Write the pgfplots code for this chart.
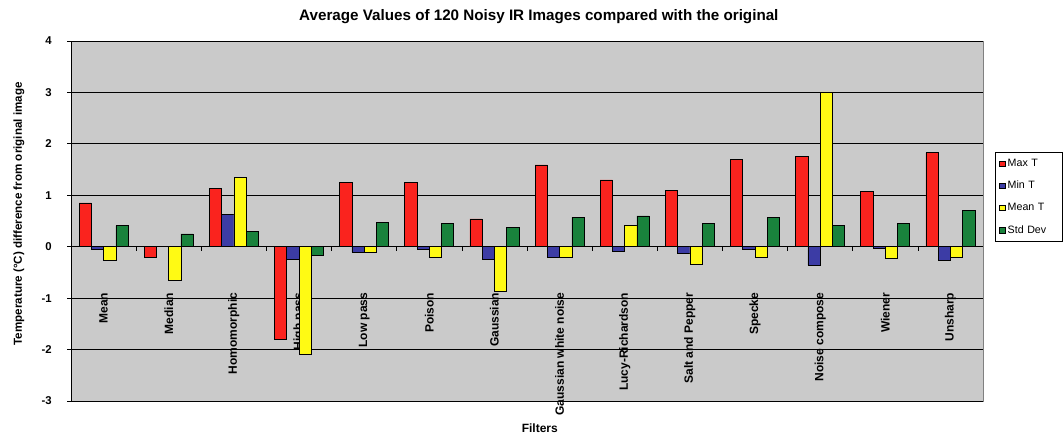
\documentclass[border=0pt]{standalone}
\usepackage{fontspec}
\setmainfont{Liberation Sans}
\usepackage{pgfplots}
\pgfplotsset{compat=1.18}
\definecolor{cMax}{RGB}{250,35,30}
\definecolor{cMin}{RGB}{60,60,165}
\definecolor{cMean}{RGB}{255,250,20}
\definecolor{cStd}{RGB}{25,130,60}
\definecolor{bgGray}{RGB}{202,202,202}
\begin{document}
\begin{tikzpicture}
\path[use as bounding box] (0,0) rectangle (798pt,326.25pt);
\begin{axis}[
  at={(53.25pt,25.5pt)}, anchor=south west,
  scale only axis, width=684pt, height=270pt,
  xmin=-0.5, xmax=13.5, ymin=-3, ymax=4,
  axis x line*=middle, axis y line*=left,
  axis line style={black, line width=0.6pt},
  axis background/.style={fill=bgGray, draw=gray, line width=0.6pt},
  ybar=0pt, bar width=9.2pt,
  ytick={-3,-2,...,4},
  ymajorgrids, major grid style={black, line width=0.6pt},
  xtick={0,...,13},
  xticklabels={Mean,Median,Homomorphic,High pass,Low pass,Poison,Gaussian,Gaussian white noise,Lucy-Richardson,Salt and Pepper,Specke,Noise compose,Wiener,Unsharp},
  minor xtick={0.5,1.5,...,12.5},
  tick align=outside, major tick length=3pt, minor tick length=3pt,
  major x tick style={draw=none},
  minor x tick style={black, line width=0.5pt},
  ytick style={black, line width=0.6pt},
  xticklabel style={rotate=90, anchor=east, font=\bfseries\fontsize{9}{10}\selectfont},
  xticklabel shift=28pt,
  yticklabel style={font=\bfseries\fontsize{8.5}{10}\selectfont, xshift=-8pt},
  /pgf/number format/assume math mode=true,
  title={Average Values of 120 Noisy IR Images compared with the original},
  every axis title/.style={at={(axis description cs:0.513,1.067)}, anchor=center, font=\bfseries\fontsize{11.4}{13}\selectfont},
  xlabel={Filters},
  every axis x label/.style={at={(axis description cs:0.514,-0.075)}, anchor=center, font=\bfseries\fontsize{9}{10}\selectfont},
  ylabel={Temperature (°C) difference from original image},
  every axis y label/.style={at={(axis description cs:-0.057,0.52)}, rotate=90, anchor=center, font=\bfseries\fontsize{8.7}{10}\selectfont},
  legend style={at={(axis description cs:1.013,0.692)}, anchor=north west, draw=black, fill=white, line width=0.5pt, font=\fontsize{8}{9}\selectfont, row sep=5.5pt, inner xsep=3pt, inner ysep=3pt, cells={text width=36pt}},
  legend cell align=left,
]
\addplot[fill=cMax, draw=black, line width=0.5pt, legend image code/.code={\draw[fill=cMax,draw=black,line width=0.4pt] (0pt,-2pt) rectangle (4pt,2pt);}] coordinates {
(0,0.85) (1,-0.21) (2,1.13) (3,-1.80) (4,1.25) (5,1.25) (6,0.54) (7,1.59) (8,1.30) (9,1.10) (10,1.69) (11,1.75) (12,1.08) (13,1.83)};
\addplot[fill=cMin, draw=black, line width=0.5pt, legend image code/.code={\draw[fill=cMin,draw=black,line width=0.4pt] (0pt,-2pt) rectangle (4pt,2pt);}] coordinates {
(0,-0.06) (1,0.01) (2,0.63) (3,-0.25) (4,-0.11) (5,-0.06) (6,-0.24) (7,-0.21) (8,-0.09) (9,-0.13) (10,-0.06) (11,-0.36) (12,-0.03) (13,-0.26)};
\addplot[fill=cMean, draw=black, line width=0.5pt, legend image code/.code={\draw[fill=cMean,draw=black,line width=0.4pt] (0pt,-2pt) rectangle (4pt,2pt);}] coordinates {
(0,-0.26) (1,-0.66) (2,1.34) (3,-2.10) (4,-0.10) (5,-0.21) (6,-0.86) (7,-0.21) (8,0.42) (9,-0.35) (10,-0.21) (11,3.01) (12,-0.23) (13,-0.21)};
\addplot[fill=cStd, draw=black, line width=0.5pt, legend image code/.code={\draw[fill=cStd,draw=black,line width=0.4pt] (0pt,-2pt) rectangle (4pt,2pt);}] coordinates {
(0,0.41) (1,0.25) (2,0.30) (3,-0.16) (4,0.47) (5,0.45) (6,0.37) (7,0.57) (8,0.60) (9,0.45) (10,0.57) (11,0.42) (12,0.45) (13,0.70)};
\legend{Max T,Min T,Mean T,Std Dev}
\end{axis}
\end{tikzpicture}
\end{document}
